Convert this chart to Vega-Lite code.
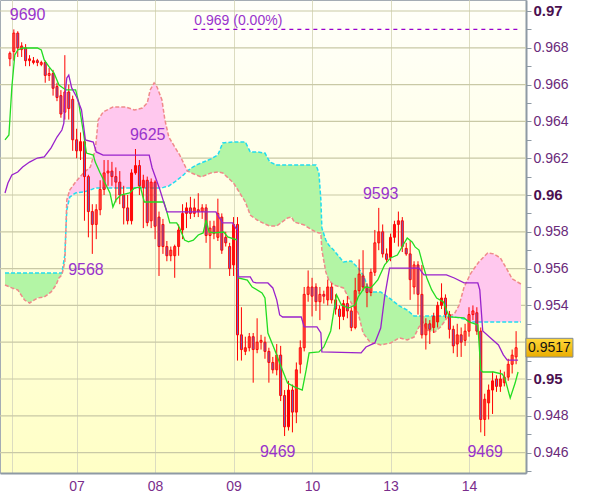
{
"$schema":"https://vega.github.io/schema/vega-lite/v6.json",
"width":526,"height":473,
"autosize":"none",
"padding":{"left":0,"top":0,"right":74,"bottom":24},
"background":"#ffffff",
"config":{"view":{"stroke":"#a4acb4","strokeWidth":1,"fill":{"gradient":"linear","x1":0,"y1":0,"x2":0,"y2":1,"stops":[{"offset":0,"color":"#fffffa"},{"offset":1,"color":"#ffffc6"}]}},"font":"Liberation Sans","text":{"font":"Liberation Sans"},"axis":{"labelFont":"Liberation Sans"}},
"datasets":{
"grid":[{"p":9460},{"p":9480},{"p":9500},{"p":9520},{"p":9540},{"p":9560},{"p":9580},{"p":9600},{"p":9620},{"p":9640},{"p":9660},{"p":9680},{"p":9700}],
"cloud":[
{"t":0.0875,"a":9557.6,"b":9551.1},{"t":0.175,"a":9557.6,"b":9549.5},{"t":0.25,"a":9557.6,"b":9548.4},{"t":0.3375,"a":9557.6,"b":9542.9},{"t":0.4,"a":9557.6,"b":9541.3},{"t":0.5,"a":9557.6,"b":9544.0},{"t":0.5875,"a":9557.6,"b":9544.6},{"t":0.675,"a":9557.6,"b":9547.3},{"t":0.7375,"a":9557.6,"b":9551.1},{"t":0.775,"a":9557.6,"b":9554.9},{"t":0.8125,"a":9557.6,"b":9556.6},{"t":0.85,"a":9567.4,"b":9563.6},{"t":0.8625,"a":9579.9,"b":9579.9},{"t":0.875,"a":9591.8,"b":9597.3},{"t":0.9125,"a":9598.9,"b":9602.7},{"t":0.9875,"a":9601.1,"b":9607.1},{"t":1.0875,"a":9601.6,"b":9612.0},{"t":1.175,"a":9602.7,"b":9615.2},{"t":1.2375,"a":9603.8,"b":9624.5},{"t":1.275,"a":9603.8,"b":9640.8},{"t":1.3375,"a":9603.8,"b":9645.1},{"t":1.4625,"a":9603.8,"b":9647.8},{"t":1.625,"a":9603.8,"b":9647.8},{"t":1.7375,"a":9603.8,"b":9646.2},{"t":1.8375,"a":9603.8,"b":9647.3},{"t":1.9,"a":9603.8,"b":9650.0},{"t":1.9375,"a":9603.8,"b":9657.1},{"t":1.9875,"a":9603.8,"b":9660.9},{"t":2.025,"a":9603.8,"b":9658.7},{"t":2.0875,"a":9603.8,"b":9651.6},{"t":2.125,"a":9604.4,"b":9640.8},{"t":2.175,"a":9604.9,"b":9631.5},{"t":2.25,"a":9607.1,"b":9626.1},{"t":2.3125,"a":9609.2,"b":9621.8},{"t":2.3625,"a":9610.9,"b":9617.4},{"t":2.4125,"a":9613.1,"b":9613.1},{"t":2.4625,"a":9614.7,"b":9612.0},{"t":2.525,"a":9616.3,"b":9610.9},{"t":2.5875,"a":9617.4,"b":9609.8},{"t":2.65,"a":9618.5,"b":9610.9},{"t":2.7125,"a":9619.6,"b":9612.0},{"t":2.8,"a":9621.8,"b":9612.5},{"t":2.8625,"a":9628.3,"b":9612.0},{"t":3.0,"a":9628.8,"b":9606.5},{"t":3.15,"a":9628.8,"b":9596.2},{"t":3.2125,"a":9623.4,"b":9589.1},{"t":3.3,"a":9623.4,"b":9586.4},{"t":3.4,"a":9622.8,"b":9584.2},{"t":3.4625,"a":9617.9,"b":9583.2},{"t":3.55,"a":9616.3,"b":9583.2},{"t":3.6875,"a":9616.3,"b":9587.5},{"t":3.7375,"a":9616.3,"b":9588.1},{"t":3.775,"a":9616.3,"b":9585.3},{"t":3.9,"a":9616.3,"b":9583.7},{"t":4.0,"a":9616.3,"b":9581.0},{"t":4.05,"a":9616.3,"b":9579.9},{"t":4.0875,"a":9612.0,"b":9579.4},{"t":4.1125,"a":9597.3,"b":9579.4},{"t":4.125,"a":9582.1,"b":9570.1},{"t":4.175,"a":9575.5,"b":9558.2},{"t":4.2125,"a":9572.8,"b":9553.8},{"t":4.275,"a":9570.1,"b":9551.1},{"t":4.4,"a":9563.6,"b":9549.5},{"t":4.5,"a":9564.1,"b":9541.3},{"t":4.5875,"a":9560.3,"b":9535.9},{"t":4.65,"a":9556.6,"b":9525.0},{"t":4.7375,"a":9547.3,"b":9520.1},{"t":4.875,"a":9547.3,"b":9518.5},{"t":5.0,"a":9543.5,"b":9519.6},{"t":5.1125,"a":9539.7,"b":9522.3},{"t":5.2125,"a":9537.5,"b":9521.2},{"t":5.3,"a":9534.2,"b":9522.8},{"t":5.3625,"a":9534.2,"b":9528.3},{"t":5.4125,"a":9534.2,"b":9531.0},{"t":5.4625,"a":9534.2,"b":9526.6},{"t":5.5625,"a":9534.2,"b":9525.5},{"t":5.6375,"a":9534.2,"b":9528.3},{"t":5.7375,"a":9534.2,"b":9534.2},{"t":5.8125,"a":9533.7,"b":9535.3},{"t":5.875,"a":9533.2,"b":9540.2},{"t":5.9375,"a":9532.6,"b":9550.0},{"t":6.025,"a":9531.0,"b":9557.6},{"t":6.125,"a":9531.0,"b":9563.6},{"t":6.2375,"a":9531.0,"b":9568.5},{"t":6.3125,"a":9531.0,"b":9568.0},{"t":6.4,"a":9531.0,"b":9565.8},{"t":6.4875,"a":9531.0,"b":9559.3},{"t":6.55,"a":9531.0,"b":9554.4},{"t":6.6625,"a":9531.0,"b":9551.6}
],
"candles":[
{"t":0.15,"o":9674,"h":9678,"l":9670,"c":9677},{"t":0.2,"o":9678,"h":9690,"l":9673,"c":9688},{"t":0.25,"o":9688,"h":9689,"l":9675,"c":9680},{"t":0.3,"o":9679,"h":9683,"l":9675,"c":9681},{"t":0.35,"o":9680,"h":9682,"l":9670,"c":9673},{"t":0.4,"o":9673,"h":9676,"l":9670,"c":9674},{"t":0.45,"o":9672,"h":9675,"l":9671,"c":9673},{"t":0.5,"o":9673,"h":9674,"l":9670,"c":9672},{"t":0.55,"o":9671,"h":9673,"l":9670,"c":9672},{"t":0.6,"o":9672,"h":9673,"l":9661,"c":9665},
{"t":0.65,"o":9665,"h":9669,"l":9662,"c":9666},{"t":0.7,"o":9666,"h":9668,"l":9654,"c":9658},{"t":0.75,"o":9659,"h":9661,"l":9651,"c":9653},{"t":0.8,"o":9654,"h":9657,"l":9642,"c":9644},{"t":0.85,"o":9645,"h":9676,"l":9641,"c":9656},{"t":0.9,"o":9656,"h":9660,"l":9641,"c":9647},{"t":0.95,"o":9652,"h":9654,"l":9624,"c":9630},{"t":1.0,"o":9630,"h":9636,"l":9620,"c":9624},{"t":1.05,"o":9624,"h":9634,"l":9619,"c":9629},{"t":1.1,"o":9629,"h":9634,"l":9586,"c":9610},
{"t":1.15,"o":9610,"h":9611,"l":9577,"c":9591},{"t":1.2,"o":9591,"h":9595,"l":9568,"c":9584},{"t":1.25,"o":9584,"h":9595,"l":9576,"c":9592},{"t":1.3,"o":9592,"h":9608,"l":9589,"c":9603},{"t":1.35,"o":9603,"h":9619,"l":9600,"c":9612},{"t":1.4,"o":9612,"h":9619,"l":9605,"c":9613},{"t":1.45,"o":9613,"h":9618,"l":9605,"c":9610},{"t":1.5,"o":9610,"h":9615,"l":9596,"c":9607},{"t":1.55,"o":9607,"h":9613,"l":9595,"c":9600},{"t":1.6,"o":9600,"h":9605,"l":9584,"c":9593},
{"t":1.65,"o":9593,"h":9600,"l":9584,"c":9586},{"t":1.7,"o":9586,"h":9614,"l":9584,"c":9612},{"t":1.75,"o":9612,"h":9625,"l":9611,"c":9616},{"t":1.8,"o":9616,"h":9619,"l":9600,"c":9605},{"t":1.85,"o":9604,"h":9611,"l":9582,"c":9608},{"t":1.9,"o":9608,"h":9610,"l":9583,"c":9585},{"t":1.95,"o":9586,"h":9609,"l":9582,"c":9607},{"t":2.0,"o":9607,"h":9608,"l":9576,"c":9583},{"t":2.05,"o":9588,"h":9591,"l":9556,"c":9572},{"t":2.1,"o":9584,"h":9587,"l":9568,"c":9572},
{"t":2.15,"o":9572,"h":9575,"l":9564,"c":9567},{"t":2.2,"o":9567,"h":9572,"l":9564,"c":9570},{"t":2.25,"o":9567,"h":9573,"l":9555,"c":9572},{"t":2.3,"o":9572,"h":9584,"l":9567,"c":9581},{"t":2.35,"o":9581,"h":9595,"l":9576,"c":9590},{"t":2.4,"o":9590,"h":9596,"l":9582,"c":9593},{"t":2.45,"o":9593,"h":9599,"l":9587,"c":9590},{"t":2.5,"o":9590,"h":9598,"l":9588,"c":9593},{"t":2.55,"o":9592,"h":9601,"l":9588,"c":9591},{"t":2.6,"o":9591,"h":9595,"l":9587,"c":9593},
{"t":2.65,"o":9593,"h":9595,"l":9574,"c":9578},{"t":2.7,"o":9578,"h":9586,"l":9560,"c":9582},{"t":2.75,"o":9583,"h":9586,"l":9576,"c":9579},{"t":2.8,"o":9577,"h":9598,"l":9575,"c":9590},{"t":2.85,"o":9588,"h":9590,"l":9568,"c":9570},{"t":2.9,"o":9577,"h":9580,"l":9572,"c":9574},{"t":2.95,"o":9572,"h":9574,"l":9556,"c":9560},{"t":3.0,"o":9562,"h":9588,"l":9556,"c":9584},{"t":3.05,"o":9584,"h":9588,"l":9510,"c":9524},{"t":3.1,"o":9524,"h":9539,"l":9510,"c":9516},
{"t":3.15,"o":9515,"h":9523,"l":9513,"c":9517},{"t":3.2,"o":9517,"h":9525,"l":9515,"c":9523},{"t":3.25,"o":9523,"h":9525,"l":9498,"c":9516},{"t":3.3,"o":9516,"h":9533,"l":9514,"c":9520},{"t":3.35,"o":9520,"h":9524,"l":9516,"c":9521},{"t":3.4,"o":9520,"h":9523,"l":9511,"c":9515},{"t":3.45,"o":9515,"h":9517,"l":9498,"c":9509},{"t":3.5,"o":9509,"h":9512,"l":9503,"c":9505},{"t":3.55,"o":9505,"h":9519,"l":9502,"c":9513},{"t":3.6,"o":9513,"h":9518,"l":9488,"c":9491},
{"t":3.65,"o":9491,"h":9494,"l":9469,"c":9474},{"t":3.7,"o":9474,"h":9499,"l":9472,"c":9494},{"t":3.75,"o":9494,"h":9497,"l":9471,"c":9482},{"t":3.8,"o":9482,"h":9509,"l":9476,"c":9505},{"t":3.85,"o":9508,"h":9521,"l":9503,"c":9517},{"t":3.9,"o":9517,"h":9550,"l":9515,"c":9546},{"t":3.95,"o":9546,"h":9559,"l":9542,"c":9550},{"t":4.0,"o":9550,"h":9555,"l":9534,"c":9545},{"t":4.05,"o":9550,"h":9552,"l":9537,"c":9542},{"t":4.1,"o":9542,"h":9550,"l":9532,"c":9546},
{"t":4.15,"o":9546,"h":9548,"l":9541,"c":9545},{"t":4.2,"o":9543,"h":9554,"l":9540,"c":9550},{"t":4.25,"o":9550,"h":9552,"l":9541,"c":9543},{"t":4.3,"o":9543,"h":9546,"l":9535,"c":9538},{"t":4.35,"o":9538,"h":9540,"l":9527,"c":9534},{"t":4.4,"o":9534,"h":9543,"l":9532,"c":9541},{"t":4.45,"o":9541,"h":9545,"l":9533,"c":9537},{"t":4.5,"o":9537,"h":9539,"l":9526,"c":9528},{"t":4.55,"o":9528,"h":9555,"l":9527,"c":9548},{"t":4.6,"o":9548,"h":9565,"l":9546,"c":9557},
{"t":4.65,"o":9556,"h":9570,"l":9548,"c":9550},{"t":4.7,"o":9550,"h":9552,"l":9539,"c":9547},{"t":4.75,"o":9547,"h":9560,"l":9545,"c":9558},{"t":4.8,"o":9558,"h":9581,"l":9556,"c":9574},{"t":4.85,"o":9574,"h":9593,"l":9570,"c":9580},{"t":4.9,"o":9580,"h":9584,"l":9566,"c":9568},{"t":4.95,"o":9568,"h":9571,"l":9563,"c":9565},{"t":5.0,"o":9566,"h":9579,"l":9564,"c":9577},{"t":5.05,"o":9577,"h":9586,"l":9574,"c":9584},{"t":5.1,"o":9584,"h":9591,"l":9572,"c":9586},
{"t":5.15,"o":9586,"h":9588,"l":9569,"c":9572},{"t":5.2,"o":9571,"h":9574,"l":9567,"c":9568},{"t":5.25,"o":9568,"h":9575,"l":9543,"c":9554},{"t":5.3,"o":9550,"h":9564,"l":9546,"c":9562},{"t":5.35,"o":9562,"h":9564,"l":9535,"c":9546},{"t":5.4,"o":9546,"h":9562,"l":9522,"c":9524},{"t":5.45,"o":9524,"h":9533,"l":9516,"c":9530},{"t":5.5,"o":9530,"h":9532,"l":9519,"c":9527},{"t":5.55,"o":9528,"h":9536,"l":9525,"c":9534},{"t":5.6,"o":9531,"h":9542,"l":9528,"c":9540},
{"t":5.65,"o":9540,"h":9552,"l":9538,"c":9544},{"t":5.7,"o":9544,"h":9546,"l":9533,"c":9535},{"t":5.75,"o":9535,"h":9537,"l":9522,"c":9527},{"t":5.8,"o":9527,"h":9529,"l":9514,"c":9518},{"t":5.85,"o":9519,"h":9530,"l":9512,"c":9524},{"t":5.9,"o":9524,"h":9528,"l":9512,"c":9520},{"t":5.95,"o":9521,"h":9530,"l":9518,"c":9526},{"t":6.0,"o":9526,"h":9539,"l":9523,"c":9535},{"t":6.05,"o":9535,"h":9540,"l":9532,"c":9537},{"t":6.1,"o":9536,"h":9539,"l":9524,"c":9526},
{"t":6.15,"o":9526,"h":9528,"l":9471,"c":9478},{"t":6.2,"o":9478,"h":9492,"l":9469,"c":9489},{"t":6.25,"o":9487,"h":9497,"l":9478,"c":9494},{"t":6.3,"o":9494,"h":9504,"l":9481,"c":9499},{"t":6.35,"o":9500,"h":9502,"l":9493,"c":9496},{"t":6.4,"o":9496,"h":9505,"l":9493,"c":9500},{"t":6.45,"o":9498,"h":9504,"l":9496,"c":9501},{"t":6.5,"o":9501,"h":9511,"l":9499,"c":9508},{"t":6.55,"o":9508,"h":9516,"l":9503,"c":9513},{"t":6.6,"o":9512,"h":9526,"l":9508,"c":9517}
],
"tenkan":[
{"t":0.0875,"p":9630},{"t":0.1375,"p":9632.6},{"t":0.175,"p":9658.7},{"t":0.2125,"p":9676.1},{"t":0.25,"p":9678.8},{"t":0.3125,"p":9679.9},{"t":0.5,"p":9679.9},{"t":0.55,"p":9678.8},{"t":0.5875,"p":9673.4},{"t":0.65,"p":9669.6},{"t":0.7125,"p":9666.3},{"t":0.775,"p":9659.8},{"t":0.8625,"p":9657.1},{"t":0.9875,"p":9657.1},{"t":1.025,"p":9650.6},{"t":1.0875,"p":9633.7},{"t":1.125,"p":9622.8},{"t":1.2125,"p":9621.7},{"t":1.2375,"p":9617.9},{"t":1.3,"p":9612},{"t":1.375,"p":9605.4},{"t":1.425,"p":9601.1},{"t":1.4625,"p":9593.5},{"t":1.5,"p":9597.3},{"t":1.5625,"p":9600},{"t":1.675,"p":9601.1},{"t":1.7375,"p":9603.8},{"t":1.8125,"p":9604.4},{"t":1.8625,"p":9596.2},{"t":2.1125,"p":9596.2},{"t":2.15,"p":9590.8},{"t":2.1875,"p":9584.8},{"t":2.275,"p":9584.8},{"t":2.3125,"p":9582.1},{"t":2.375,"p":9575.5},{"t":2.425,"p":9574.5},{"t":2.4875,"p":9575.5},{"t":2.55,"p":9578.3},{"t":2.6125,"p":9579.4},{"t":2.65,"p":9586.4},{"t":2.675,"p":9582.1},{"t":2.6875,"p":9579.9},{"t":2.75,"p":9579.4},{"t":2.875,"p":9579.9},{"t":2.925,"p":9577.2},{"t":3.05,"p":9575.5},{"t":3.0625,"p":9554.9},{"t":3.175,"p":9553.8},{"t":3.2375,"p":9550},{"t":3.3625,"p":9546.8},{"t":3.4,"p":9544},{"t":3.4375,"p":9525},{"t":3.525,"p":9515.8},{"t":3.5875,"p":9508.7},{"t":3.6875,"p":9497.8},{"t":3.775,"p":9495.7},{"t":3.875,"p":9494},{"t":3.925,"p":9504.9},{"t":3.9625,"p":9514.2},{"t":4.0875,"p":9514.7},{"t":4.15,"p":9517.4},{"t":4.2375,"p":9526.1},{"t":4.3,"p":9542.9},{"t":4.3125,"p":9545.7},{"t":4.375,"p":9540.2},{"t":4.4625,"p":9538.6},{"t":4.55,"p":9540.2},{"t":4.5875,"p":9544.6},{"t":4.675,"p":9550},{"t":4.75,"p":9549.5},{"t":4.8375,"p":9553.8},{"t":4.925,"p":9562},{"t":5.0,"p":9565.8},{"t":5.0875,"p":9567.4},{"t":5.175,"p":9573.9},{"t":5.2125,"p":9576.6},{"t":5.275,"p":9574.5},{"t":5.3125,"p":9571.8},{"t":5.3625,"p":9570.1},{"t":5.4125,"p":9562},{"t":5.4625,"p":9554.9},{"t":5.525,"p":9548.4},{"t":5.5875,"p":9544},{"t":5.675,"p":9541.9},{"t":5.7125,"p":9537.5},{"t":5.75,"p":9533.7},{"t":5.9375,"p":9533.2},{"t":6.0,"p":9531},{"t":6.1125,"p":9529.4},{"t":6.15,"p":9504.9},{"t":6.175,"p":9503.8},{"t":6.3125,"p":9503.8},{"t":6.425,"p":9502.7},{"t":6.4625,"p":9499.5},{"t":6.525,"p":9489.7},{"t":6.5875,"p":9497.8},{"t":6.625,"p":9503.8}
],
"kijun":[
{"t":0.0875,"p":9601.1},{"t":0.125,"p":9606.5},{"t":0.175,"p":9610.9},{"t":0.25,"p":9612.5},{"t":0.3125,"p":9615.2},{"t":0.4,"p":9617.9},{"t":0.5,"p":9620.1},{"t":0.5875,"p":9620.7},{"t":0.675,"p":9625.6},{"t":0.75,"p":9631.5},{"t":0.8125,"p":9635.3},{"t":0.8375,"p":9639.1},{"t":0.85,"p":9653.3},{"t":0.875,"p":9663.6},{"t":0.9,"p":9665.2},{"t":0.9375,"p":9658.2},{"t":1.0,"p":9653.3},{"t":1.0625,"p":9646.2},{"t":1.1125,"p":9629.9},{"t":1.2125,"p":9628.8},{"t":1.25,"p":9623.4},{"t":1.3375,"p":9621.7},{"t":1.925,"p":9621.7},{"t":1.9625,"p":9614.7},{"t":2.0625,"p":9602.7},{"t":2.1125,"p":9595.7},{"t":2.15,"p":9590.8},{"t":2.775,"p":9590.8},{"t":2.8125,"p":9588},{"t":2.8625,"p":9584.8},{"t":2.9875,"p":9584.8},{"t":3.025,"p":9582.1},{"t":3.05,"p":9581},{"t":3.0625,"p":9555.5},{"t":3.2125,"p":9555.5},{"t":3.25,"p":9552.7},{"t":3.2875,"p":9552.2},{"t":3.4375,"p":9552.2},{"t":3.5,"p":9549.5},{"t":3.55,"p":9543},{"t":3.5875,"p":9534.8},{"t":3.625,"p":9533.7},{"t":3.8625,"p":9533.7},{"t":3.9,"p":9528.3},{"t":4.0625,"p":9528.3},{"t":4.1125,"p":9525},{"t":4.125,"p":9514.7},{"t":4.625,"p":9514.2},{"t":4.6875,"p":9517.4},{"t":4.8,"p":9519.6},{"t":4.875,"p":9527.7},{"t":4.925,"p":9544.6},{"t":4.9875,"p":9560.3},{"t":5.3625,"p":9560.3},{"t":5.425,"p":9556.6},{"t":5.7125,"p":9556.6},{"t":5.8125,"p":9554.9},{"t":5.9375,"p":9552.2},{"t":6.1125,"p":9552.2},{"t":6.1375,"p":9548.4},{"t":6.175,"p":9526.1},{"t":6.275,"p":9522.3},{"t":6.375,"p":9518.5},{"t":6.4375,"p":9513.1},{"t":6.4875,"p":9510.3},{"t":6.625,"p":9510.3}
],
"labels":[
{"t":0.375,"p":9690,"label":"9690","side":"above"},{"t":1.906,"p":9625,"label":"9625","side":"above"},{"t":1.119,"p":9568,"label":"9568","side":"below"},{"t":4.875,"p":9593,"label":"9593","side":"above"},{"t":3.5625,"p":9469,"label":"9469","side":"below"},{"t":6.206,"p":9469,"label":"9469","side":"below"}
],
"level":[{"t":2.4875,"t2":6.6625,"p":9690,"label":"0.969 (0.00%)"}],
"last":[{"t":7.025,"p":9517,"label":"0.9517"}]
},
"layer":[
{"data":{"name":"grid"},
 "mark":{"type":"rule","color":"#c9c9a6","strokeWidth":1.2},
 "encoding":{"y":{"field":"p","type":"quantitative","title":null,"axis":{"orient":"right"}}}},
{"data":{"name":"cloud"},"transform":[{"filter":{"field":"t","range":[0.0875,0.8625]}}],
 "mark":{"type":"area","color":"#b3f5a5","opacity":1,"clip":true},
 "encoding":{
  "x":{"field":"t","type":"quantitative","title":null,"scale":{"domain":[0.0875,6.6625],"nice":false,"zero":false},
   "axis":{"orient":"bottom","values":[0.175,1,2,3,4,5,6],"tickCount":20,"labelExpr":"datum.value==1?'07':datum.value==2?'08':datum.value==3?'09':datum.value==4?'10':datum.value==5?'13':datum.value==6?'14':''","grid":true,"gridColor":"#dcdcc0","ticks":false,"labelPadding":6,"labelFontSize":14,"labelColor":"#7a2d8c","domainColor":"#8e9aa4","domainWidth":2,"labelFlush":false,"labelOverlap":false}},
  "y":{"field":"a","type":"quantitative","title":null,"scale":{"domain":[9448.913,9705.978],"nice":false,"zero":false},
   "axis":{"orient":"right","values":[9450,9460,9470,9480,9490,9500,9510,9520,9530,9540,9550,9560,9570,9580,9590,9600,9610,9620,9630,9640,9650,9660,9670,9680,9690,9700],"tickCount":40,
    "labelExpr":"(round(datum.value/10)%2==0 && datum.value!=9520) ? format(datum.value/10000,'.3~f') : ''",
    "grid":false,
    "tickSize":5,"tickColor":"#8e9aa4","labelPadding":2,
    "labelFontSize":{"condition":{"test":"datum.value%100==0","value":15},"value":14},
    "labelFontWeight":{"condition":{"test":"datum.value%100==0","value":"bold"},"value":"normal"},
    "labelColor":{"condition":{"test":"datum.value%100==0","value":"#4b1050"},"value":"#6a2a7a"},
    "domainColor":"#8e9aa4","domainWidth":2,"labelOverlap":false,"labelFlush":false}},
  "y2":{"field":"b"}}},
{"data":{"name":"cloud"},"transform":[{"filter":{"field":"t","range":[0.8625,2.4125]}}],
 "mark":{"type":"area","color":"#ffc8ee","opacity":1,"clip":true},
 "encoding":{"x":{"field":"t","type":"quantitative","title":null},"y":{"field":"a","type":"quantitative","title":null,"axis":{"orient":"right"}},"y2":{"field":"b"}}},
{"data":{"name":"cloud"},"transform":[{"filter":{"field":"t","range":[2.4125,5.7375]}}],
 "mark":{"type":"area","color":"#b3f5a5","opacity":1,"clip":true},
 "encoding":{"x":{"field":"t","type":"quantitative","title":null},"y":{"field":"a","type":"quantitative","title":null,"axis":{"orient":"right"}},"y2":{"field":"b"}}},
{"data":{"name":"cloud"},"transform":[{"filter":{"field":"t","range":[5.7375,6.6625]}}],
 "mark":{"type":"area","color":"#ffc8ee","opacity":1,"clip":true},
 "encoding":{"x":{"field":"t","type":"quantitative","title":null},"y":{"field":"a","type":"quantitative","title":null,"axis":{"orient":"right"}},"y2":{"field":"b"}}},
{"data":{"name":"cloud"},
 "mark":{"type":"line","color":"#22ddee","strokeWidth":1.5,"strokeDash":[4,2],"clip":true},
 "encoding":{"x":{"field":"t","type":"quantitative","title":null},"y":{"field":"a","type":"quantitative","title":null,"axis":{"orient":"right"}}}},
{"data":{"name":"cloud"},
 "mark":{"type":"line","color":"#f08a8a","strokeWidth":1.5,"strokeDash":[4,2],"clip":true},
 "encoding":{"x":{"field":"t","type":"quantitative","title":null},"y":{"field":"b","type":"quantitative","title":null,"axis":{"orient":"right"}}}},
{"data":{"name":"level"},
 "mark":{"type":"rule","color":"#9900cc","strokeWidth":1.2,"strokeDash":[4,4]},
 "encoding":{"x":{"field":"t","type":"quantitative","title":null},"x2":{"field":"t2"},"y":{"field":"p","type":"quantitative","title":null,"axis":{"orient":"right"}}}},
{"data":{"name":"level"},
 "mark":{"type":"text","align":"left","baseline":"alphabetic","dx":1,"dy":-4,"fontSize":14,"color":"#9933cc"},
 "encoding":{"x":{"field":"t","type":"quantitative","title":null},"y":{"field":"p","type":"quantitative","title":null,"axis":{"orient":"right"}},"text":{"field":"label"}}},
{"data":{"name":"candles"},
 "mark":{"type":"rule","color":"#ff0000","strokeWidth":1,"clip":true},
 "encoding":{"x":{"field":"t","type":"quantitative","title":null},"y":{"field":"l","type":"quantitative","title":null,"axis":{"orient":"right"}},"y2":{"field":"h"}}},
{"data":{"name":"candles"},
 "mark":{"type":"bar","width":2,"strokeWidth":1,"clip":true},
 "encoding":{"x":{"field":"t","type":"quantitative","title":null},"y":{"field":"o","type":"quantitative","title":null,"axis":{"orient":"right"}},"y2":{"field":"c"},
  "fill":{"condition":{"test":"datum.c < datum.o","value":"#6e5ec6"},"value":"transparent"},
  "stroke":{"value":"#ff0000"}}},
{"data":{"name":"tenkan"},
 "mark":{"type":"line","color":"#22dd22","strokeWidth":1.3,"clip":true},
 "encoding":{"x":{"field":"t","type":"quantitative","title":null},"y":{"field":"p","type":"quantitative","title":null,"axis":{"orient":"right"}}}},
{"data":{"name":"kijun"},
 "mark":{"type":"line","color":"#9922cc","strokeWidth":1.3,"clip":true},
 "encoding":{"x":{"field":"t","type":"quantitative","title":null},"y":{"field":"p","type":"quantitative","title":null,"axis":{"orient":"right"}}}},
{"data":{"name":"labels"},"transform":[{"filter":"datum.side=='above'"}],
 "mark":{"type":"text","fontSize":16,"color":"#9933cc","dy":-14,"baseline":"middle","align":"center"},
 "encoding":{"x":{"field":"t","type":"quantitative","title":null},"y":{"field":"p","type":"quantitative","title":null,"axis":{"orient":"right"}},"text":{"field":"label"}}},
{"data":{"name":"labels"},"transform":[{"filter":"datum.side=='below'"}],
 "mark":{"type":"text","fontSize":16,"color":"#9933cc","dy":16,"baseline":"middle","align":"center"},
 "encoding":{"x":{"field":"t","type":"quantitative","title":null},"y":{"field":"p","type":"quantitative","title":null,"axis":{"orient":"right"}},"text":{"field":"label"}}},
{"data":{"name":"last"},
 "mark":{"type":"point","shape":"M-1,-0.4L1,-0.4L1,0.4L-1,0.4Z","size":2209,"filled":true,"opacity":1,"fill":{"gradient":"linear","x1":0,"y1":0,"x2":0,"y2":1,"stops":[{"offset":0,"color":"#ffd83a"},{"offset":1,"color":"#e9ac00"}]},"stroke":"#7f8a94","strokeWidth":1,"clip":false},
 "encoding":{"x":{"field":"t","type":"quantitative","title":null},"y":{"field":"p","type":"quantitative","title":null,"axis":{"orient":"right"}}}},
{"data":{"name":"last"},
 "mark":{"type":"text","fontSize":14,"color":"#111111","align":"center","baseline":"middle","clip":false},
 "encoding":{"x":{"field":"t","type":"quantitative","title":null},"y":{"field":"p","type":"quantitative","title":null,"axis":{"orient":"right"}},"text":{"field":"label"}}}
]
}
